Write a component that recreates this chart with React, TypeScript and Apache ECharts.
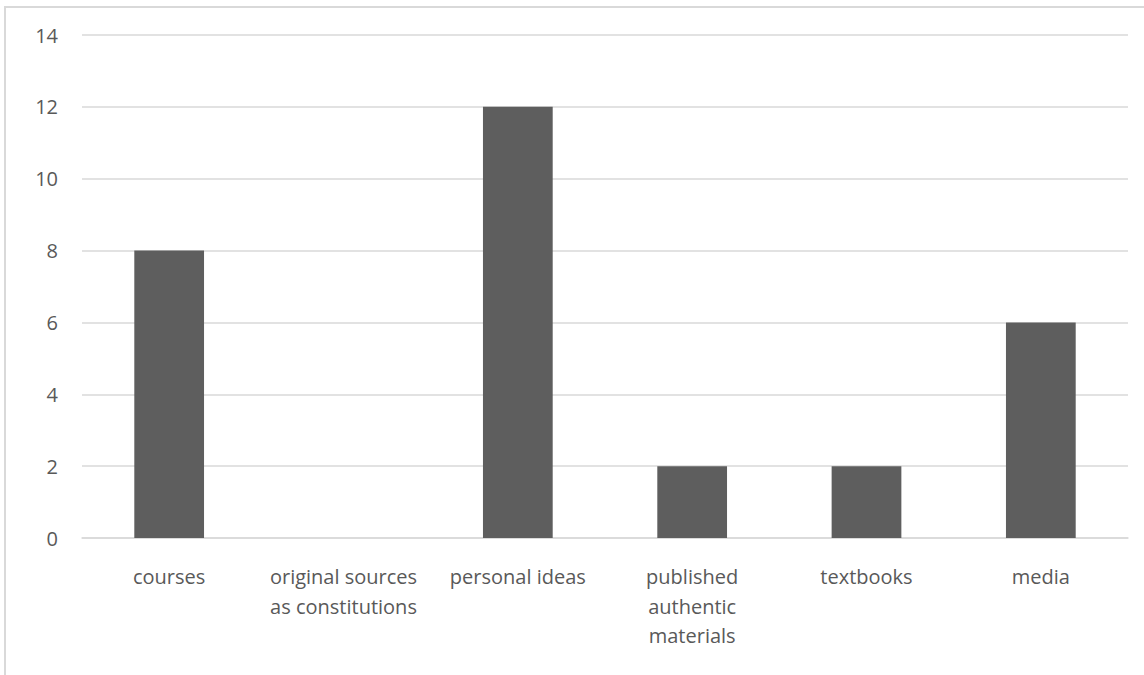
import React, { useEffect, useRef } from "react";
import * as echarts from "echarts";

const categories = [
  "courses",
  "original sources\nas constitutions",
  "personal ideas",
  "published\nauthentic\nmaterials",
  "textbooks",
  "media",
];
const values = [8, 0, 12, 2, 2, 6];
const yTicks = { min: 0, max: 14, interval: 2 };

export default function App() {
  const ref = useRef<HTMLDivElement>(null);
  useEffect(() => {
    document.body.style.margin = "0";
    const chart = echarts.init(ref.current!, null, { renderer: "svg" });
    chart.setOption({
      animation: false,
      backgroundColor: "#ffffff",
      textStyle: { fontFamily: "Open Sans" },
      graphic: [
        {
          type: "rect",
          shape: { x: 5, y: 7, width: 1200, height: 720 },
          style: { fill: "none", stroke: "#d9d9d9", lineWidth: 2 },
          silent: true,
        },
      ],
      grid: { left: 82, right: 16, top: 35, bottom: 137, containLabel: false },
      xAxis: {
        type: "category",
        data: categories,
        axisLine: { show: true, lineStyle: { color: "#d9d9d9", width: 1.5 } },
        axisTick: { show: false },
        axisLabel: {
          color: "#595959",
          fontSize: 20,
          lineHeight: 29.5,
          margin: 24,
          interval: 0,
          align: "center",
        },
      },
      yAxis: {
        type: "value",
        min: yTicks.min,
        max: yTicks.max,
        interval: yTicks.interval,
        axisLine: { show: false },
        axisTick: { show: false },
        splitLine: { lineStyle: { color: "#d9d9d9", width: 1.5 } },
        axisLabel: { color: "#595959", fontSize: 20, margin: 24 },
      },
      series: [
        {
          type: "bar",
          data: values,
          barWidth: "40%",
          itemStyle: { color: "#5e5e5e" },
        },
      ],
    });
    return () => chart.dispose();
  }, []);
  return <div ref={ref} style={{ width: 1144, height: 675 }} />;
}
